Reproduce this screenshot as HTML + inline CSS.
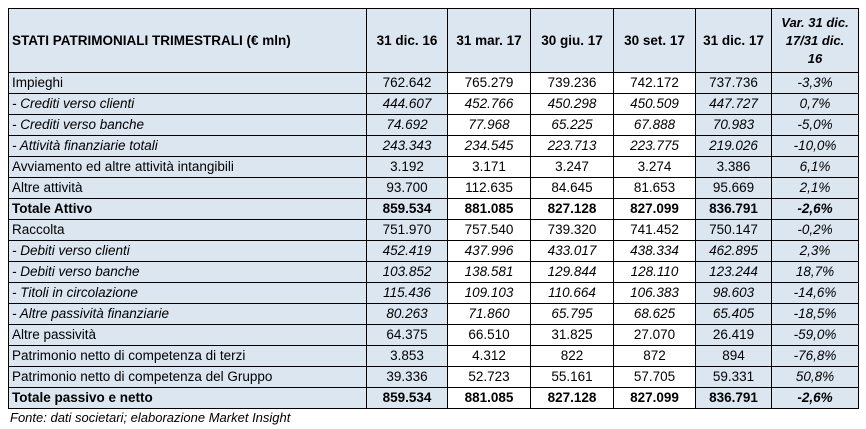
<!DOCTYPE html>
<html><head><meta charset="utf-8"><style>
html,body{margin:0;padding:0;background:#fff;width:866px;height:429px;overflow:hidden}
table{position:absolute;left:8px;top:8px;border-collapse:collapse;table-layout:fixed;font-family:"Liberation Sans",sans-serif;font-size:13.5px;color:#000}
td,th{border:1px solid #000;padding:0 3px;height:21px;line-height:18px;white-space:nowrap;overflow:hidden;box-sizing:border-box}
th{height:64px;font-weight:bold;text-align:center;background:#dce6f1}
th.lab{text-align:left;padding-left:3px}
td{text-align:center}
td.lab{text-align:left;background:#dce6f1}
td.b{background:#dce6f1}
tr.it td{font-style:italic}
tr.tot td{font-weight:bold}
th.var{font-style:italic;font-size:13px;line-height:18px;white-space:normal;padding:0 5px}
.foot{position:absolute;left:10px;top:410px;font-family:"Liberation Sans",sans-serif;font-style:italic;font-size:13px}
</style></head><body>
<table>
<colgroup><col style="width:358px"><col style="width:81px"><col style="width:83px"><col style="width:83px"><col style="width:82px"><col style="width:76px"><col style="width:87px"></colgroup>
<tr><th class="lab">STATI PATRIMONIALI TRIMESTRALI (€ mln)</th><th>31 dic. 16</th><th>31 mar. 17</th><th>30 giu. 17</th><th>30 set. 17</th><th>31 dic. 17</th><th class="var">Var. 31 dic. 17/31 dic. 16</th></tr>
<tr><td class="lab">Impieghi</td><td class="b">762.642</td><td>765.279</td><td>739.236</td><td>742.172</td><td class="b">737.736</td><td class="b" style="font-style:italic">-3,3%</td></tr>
<tr class="it"><td class="lab">- Crediti verso clienti</td><td class="b">444.607</td><td>452.766</td><td>450.298</td><td>450.509</td><td class="b">447.727</td><td class="b">0,7%</td></tr>
<tr class="it"><td class="lab">- Crediti verso banche</td><td class="b">74.692</td><td>77.968</td><td>65.225</td><td>67.888</td><td class="b">70.983</td><td class="b">-5,0%</td></tr>
<tr class="it"><td class="lab">- Attività finanziarie totali</td><td class="b">243.343</td><td>234.545</td><td>223.713</td><td>223.775</td><td class="b">219.026</td><td class="b">-10,0%</td></tr>
<tr><td class="lab">Avviamento ed altre attività intangibili</td><td class="b">3.192</td><td>3.171</td><td>3.247</td><td>3.274</td><td class="b">3.386</td><td class="b" style="font-style:italic">6,1%</td></tr>
<tr><td class="lab">Altre attività</td><td class="b">93.700</td><td>112.635</td><td>84.645</td><td>81.653</td><td class="b">95.669</td><td class="b" style="font-style:italic">2,1%</td></tr>
<tr class="tot"><td class="lab">Totale Attivo</td><td class="b">859.534</td><td>881.085</td><td>827.128</td><td>827.099</td><td class="b">836.791</td><td class="b" style="font-style:italic">-2,6%</td></tr>
<tr><td class="lab">Raccolta</td><td class="b">751.970</td><td>757.540</td><td>739.320</td><td>741.452</td><td class="b">750.147</td><td class="b" style="font-style:italic">-0,2%</td></tr>
<tr class="it"><td class="lab">- Debiti verso clienti</td><td class="b">452.419</td><td>437.996</td><td>433.017</td><td>438.334</td><td class="b">462.895</td><td class="b">2,3%</td></tr>
<tr class="it"><td class="lab">- Debiti verso banche</td><td class="b">103.852</td><td>138.581</td><td>129.844</td><td>128.110</td><td class="b">123.244</td><td class="b">18,7%</td></tr>
<tr class="it"><td class="lab">- Titoli in circolazione</td><td class="b">115.436</td><td>109.103</td><td>110.664</td><td>106.383</td><td class="b">98.603</td><td class="b">-14,6%</td></tr>
<tr class="it"><td class="lab">- Altre passività finanziarie</td><td class="b">80.263</td><td>71.860</td><td>65.795</td><td>68.625</td><td class="b">65.405</td><td class="b">-18,5%</td></tr>
<tr><td class="lab">Altre passività</td><td class="b">64.375</td><td>66.510</td><td>31.825</td><td>27.070</td><td class="b">26.419</td><td class="b" style="font-style:italic">-59,0%</td></tr>
<tr><td class="lab">Patrimonio netto di competenza di terzi</td><td class="b">3.853</td><td>4.312</td><td>822</td><td>872</td><td class="b">894</td><td class="b" style="font-style:italic">-76,8%</td></tr>
<tr><td class="lab">Patrimonio netto di competenza del Gruppo</td><td class="b">39.336</td><td>52.723</td><td>55.161</td><td>57.705</td><td class="b">59.331</td><td class="b" style="font-style:italic">50,8%</td></tr>
<tr class="tot"><td class="lab">Totale passivo e netto</td><td class="b">859.534</td><td>881.085</td><td>827.128</td><td>827.099</td><td class="b">836.791</td><td class="b" style="font-style:italic">-2,6%</td></tr>
</table>
<div class="foot">Fonte: dati societari; elaborazione Market Insight</div>
</body></html>
